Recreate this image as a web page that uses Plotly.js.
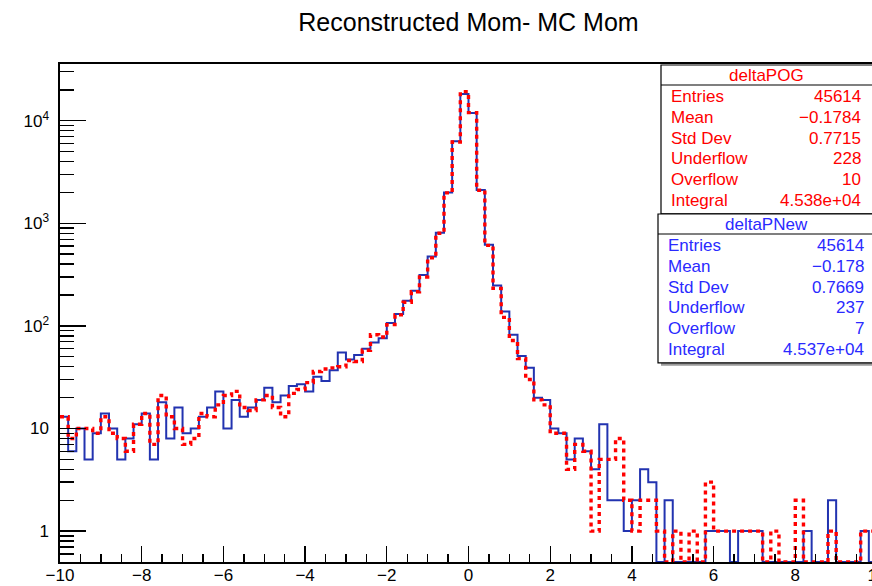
<!DOCTYPE html>
<html>
<head>
<meta charset="utf-8">
<script src="https://cdn.plot.ly/plotly-3.0.1.min.js"></script>
<style>
  html, body { margin: 0; padding: 0; overflow: hidden; background: #ffffff; }
  #chart { width: 880px; height: 586px; }
</style>
</head>
<body>
<div id="chart"></div>
<script>
// Histogram binning: 100 bins over [-10, 10]
const xLow = -10;
const xHigh = 10;

// deltaPNew bin contents (solid blue)
const countsNew = [
  13, 6, 10, 5, 9, 14, 10, 5, 8, 11,
  14, 5, 18, 8, 16, 9, 10, 13, 16, 23,
  10, 19, 13, 16, 19, 25, 18, 21, 26, 27,
  23, 32, 29, 37, 55, 47, 52, 60, 69, 76,
  107, 131, 176, 220, 313, 475, 810, 2000, 6300, 18200,
  11900, 2110, 617, 248, 138, 82, 51, 39, 20, 19,
  10, 9, 5, 8, 6, 4, 11, 2, 2, 1,
  2, 4, 3, 0, 2, 0, 0, 0, 0, 1,
  1, 1, 0, 1, 1, 1, 0, 0, 0, 0,
  0, 1, 0, 0, 2, 0, 0, 0, 1, 0
];

// deltaPOG bin contents (dotted red)
const countsOG = [
  13, 8, 10, 10, 9, 13, 9, 8, 6, 11,
  14, 7, 21, 13, 10, 7, 8, 14, 13, 17,
  21, 23, 16, 15, 19, 21, 16, 13, 22, 24,
  28, 36, 38, 39, 40, 46, 45, 58, 82, 78,
  103, 128, 170, 215, 300, 460, 800, 1980, 6200, 19200,
  12000, 2100, 610, 232, 121, 72, 48, 30, 19, 17,
  9, 9, 4, 7, 6, 1, 5, 5, 8, 2,
  1, 2, 2, 1, 0, 1, 0, 1, 0, 3,
  1, 1, 1, 1, 1, 1, 0, 1, 0, 0,
  2, 0, 0, 0, 1, 0, 0, 0, 1, 1
];

// Statistics boxes
const statLabels = ['Entries', 'Mean', 'Std Dev', 'Underflow', 'Overflow', 'Integral'];
const statsOG = ['45614', '\u22120.1784', '0.7715', '228', '10', '4.538e+04'];
const statsNew = ['45614', '\u22120.178', '0.7669', '237', '7', '4.537e+04'];

// Log-axis labels
const yTickVals = [1, 10, 100, 1000, 10000];
const yTickText = ['1', '10', '10<sup>2</sup>', '10<sup>3</sup>', '10<sup>4</sup>'];
const yLow = 0.5;
const yHigh = 35700;

const FONT = '"Liberation Sans", Arial, Helvetica, sans-serif';
const BLUE = '#2233b0';
const RED = '#ff0000';

// Empty bins sit on the bottom of the frame, as ROOT draws them on a log scale
function stepTrace(counts, color, width, dash) {
  const w = (xHigh - xLow) / counts.length;
  const x = [];
  const y = [];
  counts.forEach((c, i) => {
    x.push(xLow + i * w);
    y.push(c > 0 ? c : yLow);
  });
  x.push(xHigh);
  y.push(y[y.length - 1]);
  return {
    type: 'scatter', mode: 'lines', x: x, y: y,
    line: { shape: 'hv', color: color, width: width, dash: dash },
    hoverinfo: 'skip', showlegend: false
  };
}

// Minor ticks 2..9 in every decade of the log axis
const minorVals = [];
for (let d = -1; d <= 4; d++) {
  for (let k = 2; k <= 9; k++) {
    const v = k * Math.pow(10, d);
    if (v >= yLow && v <= yHigh) minorVals.push(v);
  }
}

// Page geometry (pixels) of the plotting frame
const W = 880, H = 586;
const M = { l: 60, r: 3, t: 64, b: 24 };
const plotW = W - M.l - M.r;
const plotH = H - M.t - M.b;
const px = p => (p - M.l) / plotW;
const py = p => (H - M.b - p) / plotH;

const shapes = [];
const annotations = [];
const STAT_SIZE = 17;

function statBox(left, top, rowH, titleText, values, color, rightX, shadow) {
  const titleH = 20;
  const bottom = top + titleH + rowH * values.length + 4;
  if (shadow) {
    shapes.push({ type: 'rect', xref: 'paper', yref: 'paper',
      x0: px(left + 3), x1: px(W + 20), y0: py(bottom + 3), y1: py(bottom),
      fillcolor: '#9a9a9a', line: { width: 0 }, layer: 'above' });
  }
  shapes.push({ type: 'rect', xref: 'paper', yref: 'paper',
    x0: px(left), x1: px(W + 20), y0: py(bottom), y1: py(top),
    fillcolor: '#ffffff', line: { color: '#000000', width: 1.2 }, layer: 'above' });
  shapes.push({ type: 'line', xref: 'paper', yref: 'paper',
    x0: px(left), x1: px(W + 20), y0: py(top + titleH), y1: py(top + titleH),
    line: { color: '#000000', width: 1.2 }, layer: 'above' });
  annotations.push({ xref: 'paper', yref: 'paper', x: px(766), y: py(top + titleH / 2),
    text: titleText, showarrow: false, xanchor: 'center', yanchor: 'middle',
    font: { family: FONT, size: STAT_SIZE, color: color } });
  values.forEach((v, i) => {
    const yc = top + titleH + rowH * i + rowH / 2 + 1;
    annotations.push({ xref: 'paper', yref: 'paper', x: px(left + 8), y: py(yc),
      text: statLabels[i], showarrow: false, xanchor: 'left', yanchor: 'middle',
      font: { family: FONT, size: STAT_SIZE, color: color } });
    annotations.push({ xref: 'paper', yref: 'paper', x: px(rightX), y: py(yc),
      text: v, showarrow: false, xanchor: 'right', yanchor: 'middle',
      font: { family: FONT, size: STAT_SIZE, color: color } });
  });
}

statBox(661, 65, 20.8, 'deltaPOG', statsOG, RED, 863, false);
statBox(658, 214, 20.8, 'deltaPNew', statsNew, '#2a2aff', 866, true);

const data = [
  stepTrace(countsNew, BLUE, 2, 'solid'),
  stepTrace(countsOG, RED, 3.4, '4px,4px')
];

const layout = {
  width: W, height: H,
  margin: M,
  paper_bgcolor: '#ffffff',
  plot_bgcolor: '#ffffff',
  showlegend: false,
  font: { family: FONT, color: '#000000' },
  title: {
    text: 'Reconstructed Mom- MC Mom',
    x: 0.5, xref: 'paper', xanchor: 'center',
    y: 1 - 22 / H, yref: 'container', yanchor: 'middle',
    font: { family: FONT, size: 25, color: '#000000' }
  },
  xaxis: {
    range: [xLow, xHigh],
    tickmode: 'linear', tick0: -10, dtick: 2,
    ticks: 'inside', ticklen: 16, tickwidth: 1.4, tickcolor: '#000000',
    minor: { tick0: -10, dtick: 0.5, ticks: 'inside', ticklen: 8, tickwidth: 1.4, tickcolor: '#000000' },
    showline: true, linecolor: '#000000', linewidth: 1.6, mirror: true,
    showgrid: false, zeroline: false,
    ticklabeloverflow: 'allow',
    ticklabelstandoff: -3,
    tickfont: { family: FONT, size: 17, color: '#000000' }
  },
  yaxis: {
    type: 'log',
    range: [Math.log10(yLow), Math.log10(yHigh)],
    tickmode: 'array', tickvals: yTickVals, ticktext: yTickText,
    ticks: 'inside', ticklen: 26, tickwidth: 1.4, tickcolor: '#000000',
    minor: { tickmode: 'array', tickvals: minorVals, ticks: 'inside', ticklen: 14, tickwidth: 1.4, tickcolor: '#000000' },
    showline: true, linecolor: '#000000', linewidth: 1.6, mirror: true,
    showgrid: false, zeroline: false,
    ticklabelstandoff: 6,
    tickfont: { family: FONT, size: 17, color: '#000000' }
  },
  shapes: shapes,
  annotations: annotations
};

Plotly.newPlot('chart', data, layout, { staticPlot: true, displayModeBar: false });
</script>
</body>
</html>
